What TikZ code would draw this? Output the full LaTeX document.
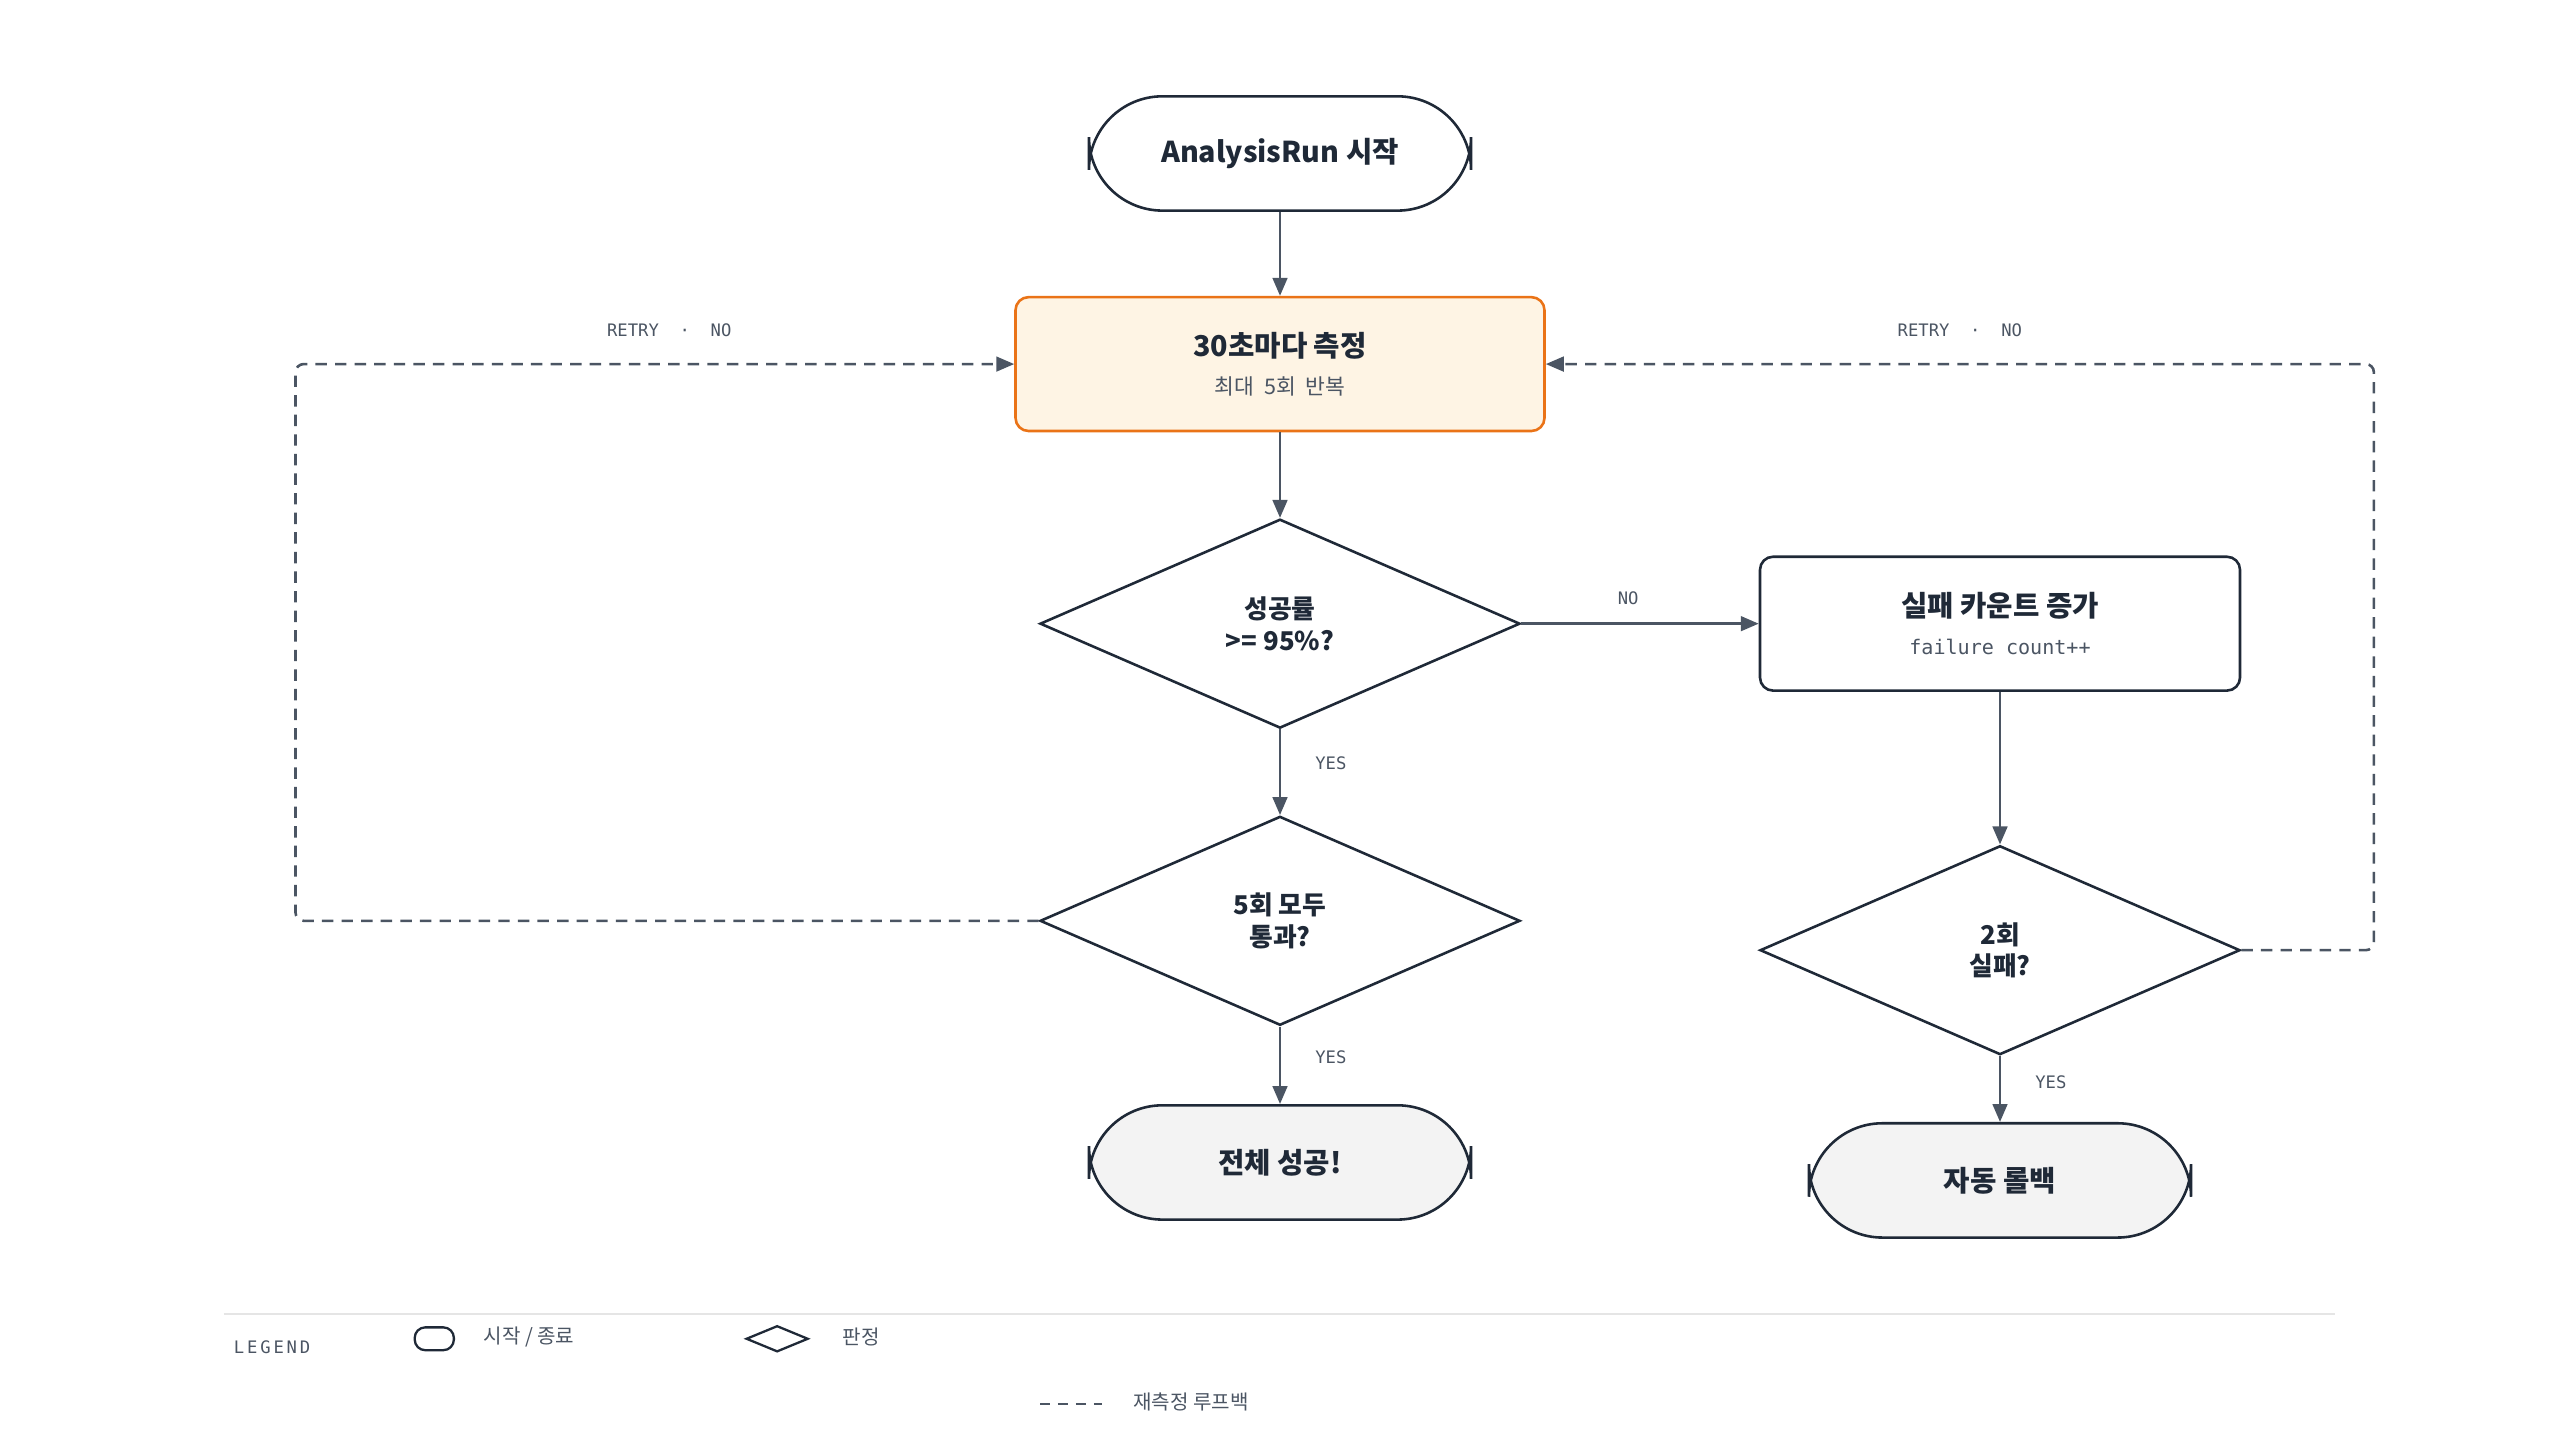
\documentclass[tikz,border=0pt]{standalone}
\usepackage{fontspec}
\setmainfont{Noto Sans CJK KR}
\newfontfamily\monofont{DejaVu Sans Mono}
\usetikzlibrary{shapes.geometric,arrows.meta,positioning}
\definecolor{ink}{HTML}{1F2937}
\definecolor{wire}{HTML}{4B5563}
\definecolor{accent}{HTML}{EA7317}
\definecolor{cream}{HTML}{FEF4E4}
\definecolor{endfill}{HTML}{F3F3F3}
\tikzset{
  terminal/.style={draw=ink,line width=0.9pt,rounded corners=9mm,minimum width=46.8mm,minimum height=14mm,align=center,font=\bfseries\fontsize{10}{12}\selectfont,text=ink},
  process/.style={draw=ink,line width=0.9pt,rounded corners=1.6mm,minimum width=58.8mm,minimum height=16.4mm,align=center,text=ink},
  decision/.style={draw=ink,line width=0.9pt,diamond,aspect=2.3,minimum width=58.8mm,minimum height=25.6mm,inner sep=0pt,align=center,font=\bfseries\fontsize{9}{11}\selectfont,text=ink},
  flow/.style={draw=wire,line width=0.9pt,-{Triangle[length=2.2mm,width=1.8mm]}},
  loop/.style={flow,dashed,dash pattern=on 1.4mm off 1mm,rounded corners=1mm},
  tag/.style={font=\monofont\fontsize{6}{7}\selectfont,text=wire}
}
\begin{document}
\begin{tikzpicture}[x=0.2mm,y=-0.2mm]
	\useasboundingbox (0,0) rectangle (1568,882);
	%Main column
	\node[terminal] (start) at (784,94) {AnalysisRun 시작};
	\node[process,draw=accent,fill=cream,minimum width=64.8mm] (measure) at (784,223)
		{{\bfseries\fontsize{10}{12}\selectfont 30초마다 측정}\\[0.5mm]{\fontsize{7.5}{9}\selectfont\color{wire}최대\ \ 5회\ \ 반복}};
	\node[decision] (rate) at (784,382) {성공률\\>= 95\%?};
	\node[decision] (all) at (784,564) {5회 모두\\통과?};
	\node[terminal,fill=endfill] (done) at (784,712) {전체 성공!};
	%Failure column
	\node[process] (fail) at (1225,382)
		{{\bfseries\fontsize{10}{12}\selectfont 실패 카운트 증가}\\[0.5mm]{\monofont\fontsize{7}{9}\selectfont\color{wire}failure count++}};
	\node[decision] (twice) at (1225,582) {2회\\실패?};
	\node[terminal,fill=endfill] (rollback) at (1225,723) {자동 롤백};
	%Connectors
	\draw[flow] (start) -- (measure);
	\draw[flow] (measure) -- (rate);
	\draw[flow] (rate) -- node[tag,right=3mm,pos=0.4]{YES} (all);
	\draw[flow] (all) -- node[tag,right=3mm,pos=0.4]{YES} (done);
	\draw[flow] (rate.east) -- node[tag,above=1mm,pos=0.45]{NO} (fail.west);
	\draw[flow] (fail) -- (twice);
	\draw[flow] (twice) -- node[tag,right=3mm,pos=0.4]{YES} (rollback);
	%Retry loops
	\draw[loop] (all.west) -- (181,564) -- (181,223) -- node[tag,above=2mm,pos=0.52]{RETRY\ \ ·\ \ NO} (measure.west);
	\draw[loop] (twice.east) -- (1454,582) -- (1454,223) -- node[tag,above=2mm,pos=0.5]{RETRY\ \ ·\ \ NO} (measure.east);
	%Legend
	\draw[gray!20,line width=0.6pt] (137,805) -- (1430,805);
	\node[tag,anchor=west] (legend) at (137,825) {L\,E\,G\,E\,N\,D};
	\node[draw=ink,line width=0.8pt,rounded corners=1.3mm,minimum width=4.8mm,minimum height=2.8mm,inner sep=0pt] (keyterm) at (266,820) {};
	\node[anchor=west,font=\fontsize{7}{8}\selectfont,text=wire] (keytermtxt) at (290,819) {시작 / 종료};
	\node[draw=ink,line width=0.8pt,diamond,aspect=2.4,minimum width=7.6mm,minimum height=3.2mm,inner sep=0pt] (keydec) at (476,820) {};
	\node[anchor=west,font=\fontsize{7}{8}\selectfont,text=wire] (keydectxt) at (510,819) {판정};
	\coordinate (keyloopa) at (637,860);
	\coordinate (keyloopb) at (675,860);
	\draw[wire,line width=0.8pt,dash pattern=on 1.2mm off 1mm] (keyloopa) -- (keyloopb);
	\node[anchor=west,font=\fontsize{7}{8}\selectfont,text=wire] (keylooptxt) at (688,859) {재측정 루프백};
\end{tikzpicture}
\end{document}
